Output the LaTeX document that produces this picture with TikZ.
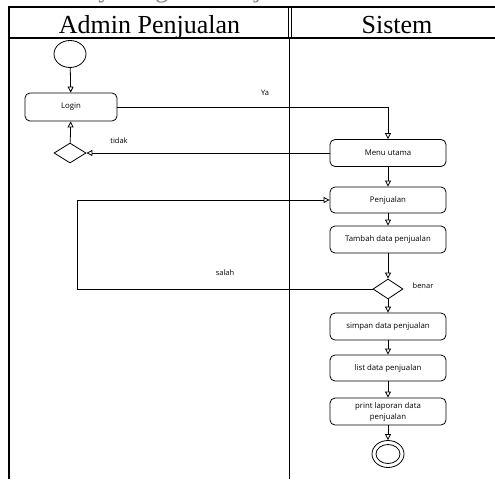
\documentclass[tikz,border=0pt]{standalone}
\usepackage{fontspec}
\setmainfont{Liberation Serif}
\newfontfamily\lblfont{Open Sans}
\usetikzlibrary{shapes.geometric,arrows.meta}
\begin{document}
\begin{tikzpicture}[x=1pt,y=-1pt]
\tikzstyle{every node}+=[inner sep=0pt]
\tikzstyle{act}=[draw, rounded corners=5pt, minimum width=116pt, minimum height=27pt, align=center, line width=0.8pt, font=\lblfont\fontsize{7.8}{11}\selectfont]
\tikzstyle{dec}=[draw, diamond, minimum width=31pt, minimum height=20pt, line width=0.8pt]
\tikzstyle{bulat}=[draw, ellipse, minimum width=32pt, minimum height=27pt, line width=0.8pt]
\tikzstyle{lbl}=[font=\lblfont\fontsize{7.5}{10}\selectfont]
\tikzstyle{judul}=[anchor=base, font=\fontsize{26}{30}\selectfont]
\tikzstyle{flow}=[-{Triangle[open,length=6pt,width=6pt]}, line width=0.8pt]
\useasboundingbox (0,0) rectangle (495,479);
% caption, cut off at the top
\node[anchor=base west, text=gray, font=\fontsize{26}{30}\selectfont] (caption) at (26,-2.5) {Activity Diagram Penjualan};
% swimlanes
\draw[line width=1.5pt] (495,7) -- (9,7) -- (9,479);
\draw[line width=1.5pt] (9,38) -- (495,38);
\draw[line width=1pt] (288.3,7) -- (288.3,38);
\draw[line width=1pt] (291.7,7) -- (291.7,38);
\draw[line width=1pt] (289,38) -- (289,479);
\node[judul] (admin) at (149.5,33) {Admin Penjualan};
\node[judul] (sistem) at (397,33) {Sistem};
% admin lane
\node[bulat] (start) at (70,54) {};
\node[act, minimum width=92pt, minimum height=28pt] (login) at (71,107) {Login};
\node[dec, minimum width=32pt] (cek) at (70,153) {};
% sistem lane
\node[act] (menu) at (388,153) {Menu utama};
\node[act, minimum height=26pt] (jual) at (388,200) {Penjualan};
\node[act] (tambah) at (388,239.5) {Tambah data penjualan};
\node[dec, minimum width=30pt] (valid) at (388,289) {};
\node[act] (simpan) at (388,326.5) {simpan data penjualan};
\node[act, minimum height=26pt] (list) at (388,368) {list data penjualan};
\node[act] (print) at (388,411.5) {print laporan data\\penjualan};
\node[bulat] (end) at (388,454) {};
\node[bulat, minimum width=24pt, minimum height=19pt] (endin) at (end) {};
\coordinate (balik) at (77,289);
% flows
\draw[flow] (start) -- (login);
\draw[flow] (cek) -- (login);
\draw[flow] (login.east) -| (menu.north);
\draw[flow] (menu.west) -- (cek.east);
\draw[flow] (menu) -- (jual);
\draw[flow] (jual) -- (tambah);
\draw[flow] (tambah) -- (valid);
\draw[flow] (valid.west) -- (balik) |- (jual.west);
\draw[flow] (valid) -- (simpan);
\draw[flow] (simpan) -- (list);
\draw[flow] (list) -- (print);
\draw[flow] (print) -- (end);
\node[lbl] (ya) at (265,93) {Ya};
\node[lbl] (tidak) at (119,141) {tidak};
\node[lbl] (salah) at (225,273) {salah};
\node[lbl] (benar) at (423,286) {benar};
\end{tikzpicture}
\end{document}
